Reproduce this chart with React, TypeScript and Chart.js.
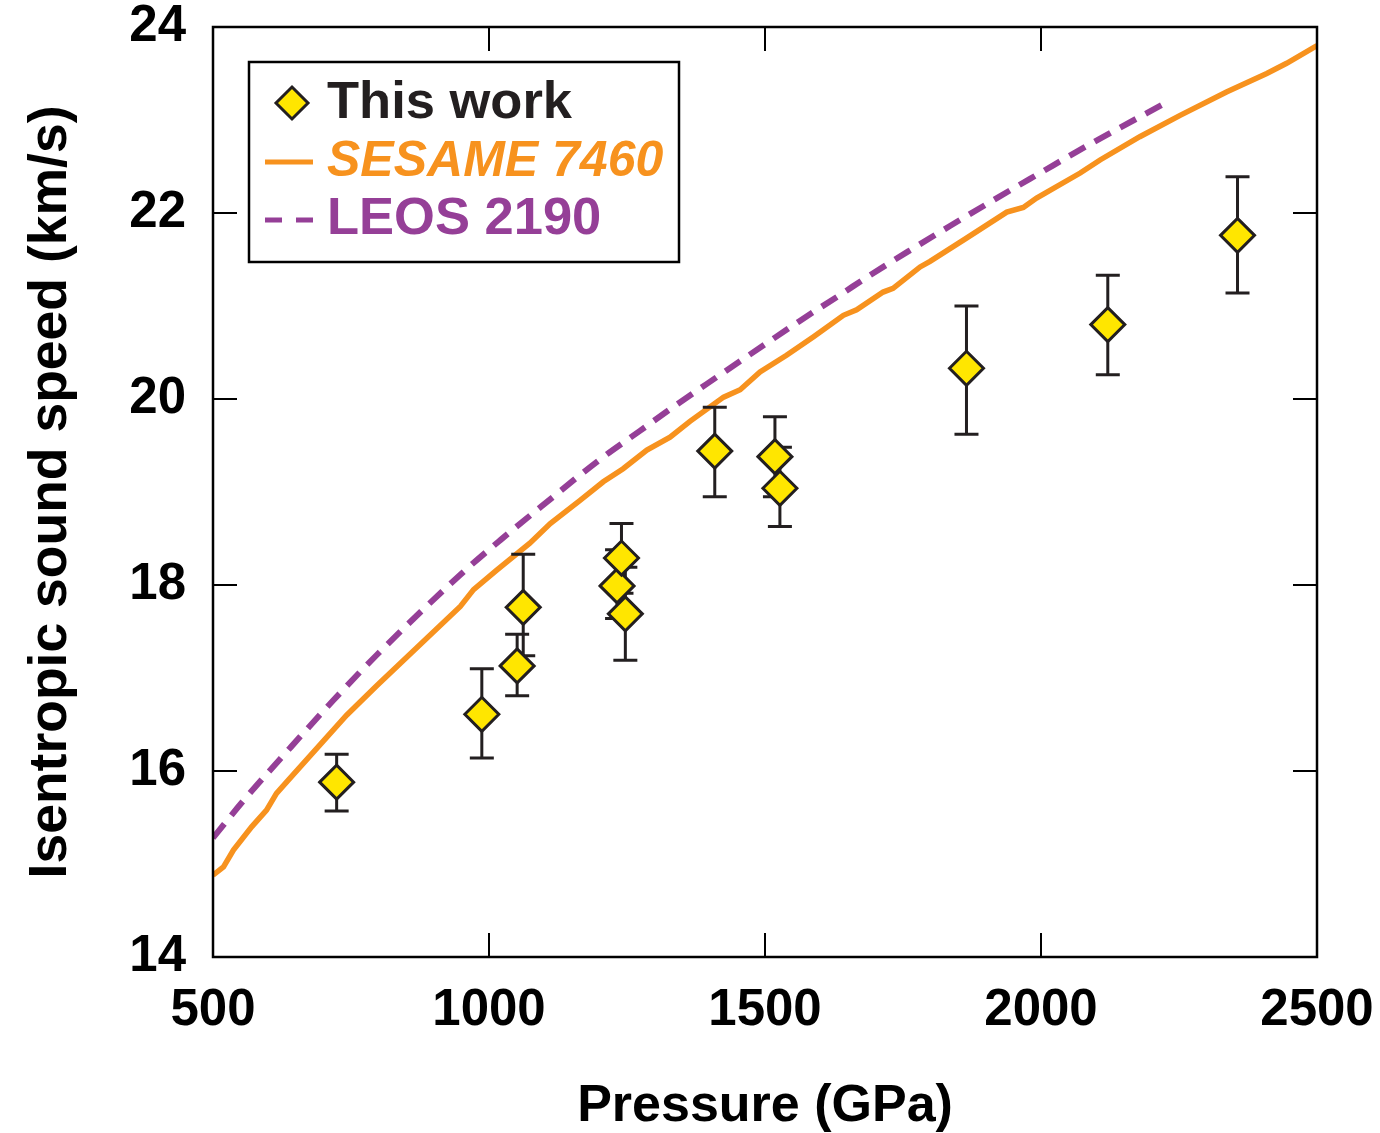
import React, { useEffect, useRef } from "react";
import { Chart, registerables } from "chart.js";

Chart.register(...registerables);

// ---- Data ----
const pressure = [724, 987, 1051, 1062, 1232, 1240, 1247, 1409, 1518, 1527, 1865, 2121, 2356];
const soundSpeed = [15.88, 16.61, 17.13, 17.76, 17.99, 18.29, 17.69, 19.44, 19.38, 19.04, 20.33, 20.8, 21.76];
const errUpper = [16.18, 17.1, 17.47, 18.33, 18.38, 18.66, 18.19, 19.91, 19.81, 19.48, 21.0, 21.33, 22.39];
const errLower = [15.57, 16.14, 16.81, 17.24, 17.64, 17.91, 17.19, 18.95, 18.95, 18.63, 19.62, 20.26, 21.14];

const sesameP = [500, 519, 537, 570, 597, 615, 636, 742, 797, 948, 972, 1014, 1074, 1111, 1165, 1207, 1243, 1286, 1328, 1364, 1425, 1455, 1491, 1539, 1588, 1642, 1666, 1714, 1732, 1781, 1799, 1865, 1938, 1968, 1992, 2071, 2107, 2179, 2252, 2336, 2409, 2445, 2500];
const sesameC = [14.88, 14.97, 15.15, 15.4, 15.58, 15.76, 15.9, 16.6, 16.92, 17.77, 17.95, 18.16, 18.45, 18.66, 18.91, 19.11, 19.25, 19.45, 19.59, 19.76, 20.02, 20.1, 20.29, 20.47, 20.67, 20.9, 20.96, 21.15, 21.19, 21.42, 21.48, 21.73, 22.01, 22.06, 22.16, 22.43, 22.57, 22.82, 23.05, 23.3, 23.5, 23.61, 23.8];

const leosP = [500, 555, 640, 718, 797, 948, 1020, 1096, 1201, 1274, 1328, 1394, 1503, 1563, 1636, 1690, 1763, 1835, 1920, 2004, 2065, 2107, 2234];
const leosC = [15.28, 15.68, 16.25, 16.76, 17.25, 18.11, 18.48, 18.85, 19.35, 19.66, 19.89, 20.16, 20.6, 20.84, 21.12, 21.33, 21.6, 21.86, 22.16, 22.45, 22.66, 22.8, 23.21];

const xTicks = [500, 1000, 1500, 2000, 2500];
const yTicks = [14, 16, 18, 20, 22, 24];

const labels = ["This work", "SESAME 7460", "LEOS 2190"];
const xTitle = "Pressure (GPa)";
const yTitle = "Isentropic sound speed (km/s)";

const FONT = "'Liberation Sans', Arial, Helvetica, sans-serif";
const DARK = "#231f20";
const YELLOW = "#ffe600";
const ORANGE = "#f7921e";
const PURPLE = "#953f97";

function diamond(ctx: CanvasRenderingContext2D, x: number, y: number, r: number) {
  ctx.beginPath();
  ctx.moveTo(x, y - r);
  ctx.lineTo(x + r, y);
  ctx.lineTo(x, y + r);
  ctx.lineTo(x - r, y);
  ctx.closePath();
  ctx.fillStyle = YELLOW;
  ctx.fill();
  ctx.lineWidth = 3;
  ctx.strokeStyle = DARK;
  ctx.lineJoin = "miter";
  ctx.stroke();
}

const errorBarPlugin = {
  id: "errorBars",
  beforeDatasetDraw(chart: any, args: any) {
    if (args.index !== 0) return;
    const { ctx, scales } = chart;
    const xs = scales.x;
    const ys = scales.y;
    ctx.save();
    ctx.strokeStyle = DARK;
    ctx.lineWidth = 3;
    for (let i = 0; i < pressure.length; i++) {
      const px = xs.getPixelForValue(pressure[i]);
      const top = ys.getPixelForValue(errUpper[i]);
      const bot = ys.getPixelForValue(errLower[i]);
      ctx.beginPath();
      ctx.moveTo(px, top);
      ctx.lineTo(px, bot);
      ctx.moveTo(px - 12, top);
      ctx.lineTo(px + 12, top);
      ctx.moveTo(px - 12, bot);
      ctx.lineTo(px + 12, bot);
      ctx.stroke();
    }
    ctx.restore();
  },
};

const framePlugin = {
  id: "frameTicks",
  afterDraw(chart: any) {
    const { ctx, chartArea: a, scales } = chart;
    ctx.save();
    ctx.strokeStyle = "#000";
    ctx.lineWidth = 2;
    const tl = 24;
    ctx.beginPath();
    xTicks.forEach((v) => {
      const px = scales.x.getPixelForValue(v);
      ctx.moveTo(px, a.bottom);
      ctx.lineTo(px, a.bottom - tl);
      ctx.moveTo(px, a.top);
      ctx.lineTo(px, a.top + tl);
    });
    yTicks.forEach((v) => {
      const py = scales.y.getPixelForValue(v);
      ctx.moveTo(a.left, py);
      ctx.lineTo(a.left + tl, py);
      ctx.moveTo(a.right, py);
      ctx.lineTo(a.right - tl, py);
    });
    ctx.stroke();
    ctx.lineWidth = 2.5;
    ctx.strokeRect(a.left, a.top, a.right - a.left, a.bottom - a.top);

    // legend
    const bx = 249, by = 62, bw = 430, bh = 200;
    ctx.fillStyle = "#fff";
    ctx.fillRect(bx, by, bw, bh);
    ctx.lineWidth = 2.5;
    ctx.strokeStyle = "#000";
    ctx.strokeRect(bx, by, bw, bh);

    const tx = 327;
    ctx.textBaseline = "middle";
    ctx.textAlign = "left";

    diamond(ctx, 292, 103, 16);
    ctx.fillStyle = DARK;
    ctx.font = `bold 52.5px ${FONT}`;
    ctx.fillText(labels[0], tx, 104);

    ctx.strokeStyle = ORANGE;
    ctx.lineWidth = 5;
    ctx.setLineDash([]);
    ctx.beginPath();
    ctx.moveTo(265, 162);
    ctx.lineTo(313, 162);
    ctx.stroke();
    ctx.fillStyle = ORANGE;
    ctx.font = `italic bold 50px ${FONT}`;
    ctx.fillText(labels[1], tx, 162);

    ctx.strokeStyle = PURPLE;
    ctx.setLineDash([17, 14]);
    ctx.beginPath();
    ctx.moveTo(265, 220);
    ctx.lineTo(313, 220);
    ctx.stroke();
    ctx.setLineDash([]);
    ctx.fillStyle = PURPLE;
    ctx.font = `bold 52.5px ${FONT}`;
    ctx.fillText(labels[2], tx, 220);
    ctx.restore();
  },
};

export default function App() {
  const ref = useRef<HTMLCanvasElement | null>(null);
  useEffect(() => {
    if (!ref.current) return;
    const chart = new Chart(ref.current, {
      type: "scatter",
      data: {
        datasets: [
          {
            label: labels[0],
            data: pressure.map((x, i) => ({ x, y: soundSpeed[i] })),
            pointStyle: "rectRot",
            pointRadius: 17,
            pointBackgroundColor: YELLOW,
            pointBorderColor: DARK,
            pointBorderWidth: 3,
            showLine: false,
            order: 0,
          },
          {
            label: labels[1],
            data: sesameP.map((x, i) => ({ x, y: sesameC[i] })),
            showLine: true,
            borderColor: ORANGE,
            borderWidth: 5.5,
            pointRadius: 0,
            tension: 0,
            order: 1,
          },
          {
            label: labels[2],
            data: leosP.map((x, i) => ({ x, y: leosC[i] })),
            showLine: true,
            borderColor: PURPLE,
            borderWidth: 6,
            borderDash: [18, 11],
            pointRadius: 0,
            cubicInterpolationMode: "monotone",
            order: 2,
          },
        ],
      },
      options: {
        responsive: false,
        animation: false,
        layout: { padding: { top: 27, right: 63, left: 0, bottom: 0 } },
        plugins: { legend: { display: false }, tooltip: { enabled: false } },
        scales: {
          x: {
            type: "linear",
            min: 500,
            max: 2500,
            afterBuildTicks: (s: any) => {
              s.ticks = xTicks.map((v) => ({ value: v }));
            },
            afterFit: (s: any) => {
              s.height = 176;
              s.paddingLeft = 0;
              s.paddingRight = 0;
              s.paddingTop = 0;
              s.paddingBottom = 0;
            },
            grid: { display: false, drawTicks: false },
            border: { display: false },
            ticks: {
              padding: 28,
              color: "#000",
              font: { family: FONT, size: 51, weight: "bold", lineHeight: 1 },
              maxRotation: 0,
              callback: (v: any) => String(v),
            },
            title: {
              display: true,
              text: xTitle,
              color: "#000",
              font: { family: FONT, size: 52, weight: "bold", lineHeight: 1.2 },
              padding: { top: 0, bottom: -5 },
            },
          },
          y: {
            type: "linear",
            min: 14,
            max: 24,
            afterBuildTicks: (s: any) => {
              s.ticks = yTicks.map((v) => ({ value: v }));
            },
            afterFit: (s: any) => {
              s.width = 213;
              s.paddingLeft = 0;
              s.paddingRight = 0;
              s.paddingTop = 0;
              s.paddingBottom = 0;
            },
            grid: { display: false, drawTicks: false },
            border: { display: false },
            ticks: {
              padding: 27,
              color: "#000",
              font: { family: FONT, size: 51, weight: "bold", lineHeight: 1 },
              callback: (v: any) => String(v),
            },
            title: {
              display: true,
              text: yTitle,
              color: "#000",
              font: { family: FONT, size: 53.5, weight: "bold", lineHeight: 1.2 },
              padding: { top: 19, bottom: 0 },
            },
          },
        },
      } as any,
      plugins: [errorBarPlugin, framePlugin],
    });
    return () => chart.destroy();
  }, []);
  return (
    <div style={{ position: "absolute", left: 0, top: 0, width: 1380, height: 1133, background: "#fff" }}>
      <canvas ref={ref} width={1380} height={1133} style={{ display: "block" }} />
    </div>
  );
}
